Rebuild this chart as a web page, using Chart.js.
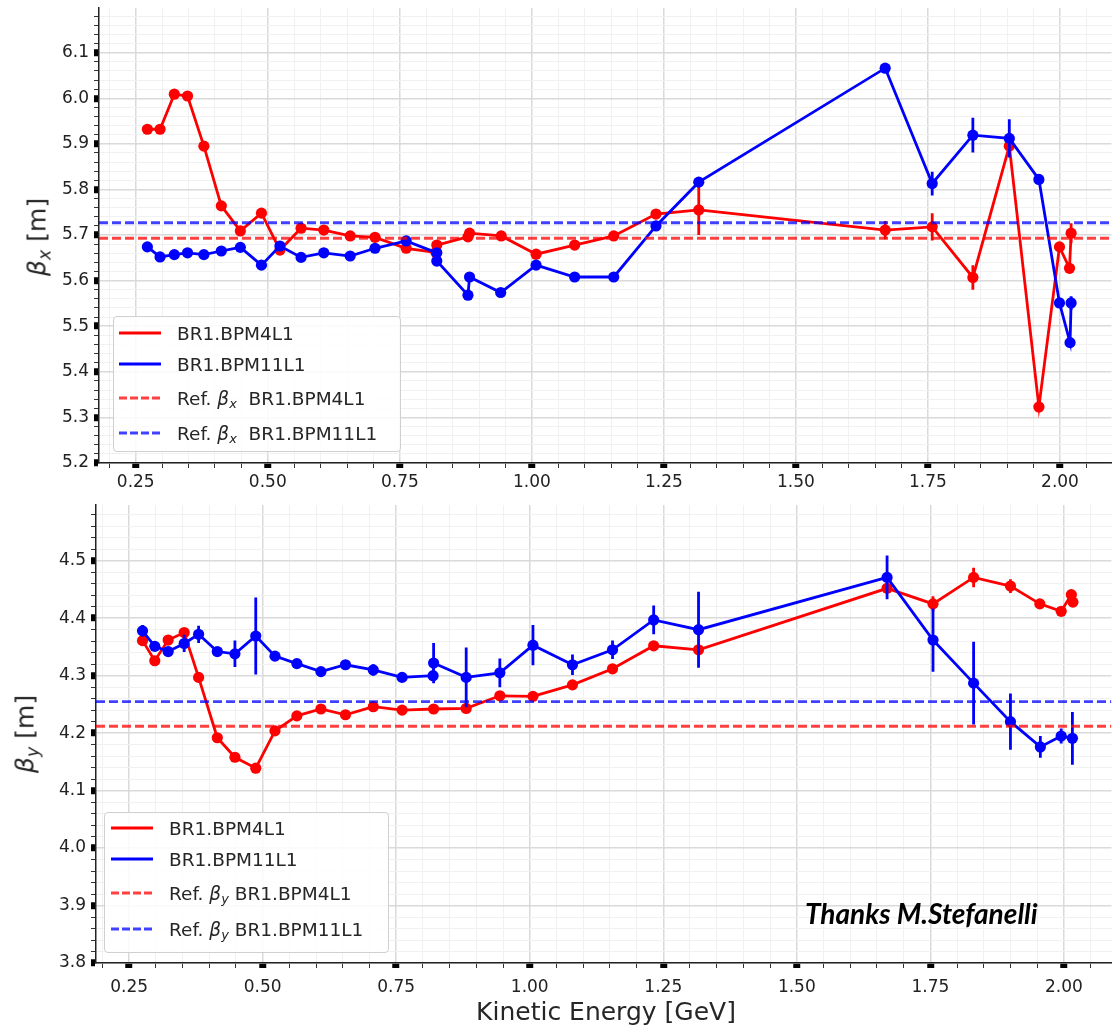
<!DOCTYPE html>
<html>
<head>
<meta charset="utf-8">
<script src="https://cdn.jsdelivr.net/npm/chart.js@4.4.1/dist/chart.umd.min.js"></script>
<style>
  body { margin: 0; background: #fff; }
  #wrap { position: relative; width: 1117px; height: 1030px; font-family: "DejaVu Sans", sans-serif; color: #262626; }
  canvas { position: absolute; left: 0; }
  #cTop { top: 0; }
  #cBot { top: 490px; }
  .ytitle { position: absolute; font-size: 25px; white-space: nowrap; transform: translate(-50%, -50%) rotate(-90deg); }
  .xtitle { position: absolute; font-size: 25px; white-space: nowrap; transform: translate(-50%, -50%); }
  sub { font-size: 0.7em; vertical-align: -0.3em; line-height: 0; }
  .legend { position: absolute; box-sizing: border-box; border: 1px solid #d0d0d0; border-radius: 4px; background: rgba(255,255,255,0.85); font-size: 18.5px; }
  .row { position: absolute; left: 0; display: flex; align-items: center; transform: translateY(-50%); white-space: nowrap; }
  .swatch { height: 3px; }
  .thanks { position: absolute; font-family: Lato, "Open Sans", sans-serif; font-weight: bold; font-style: italic; font-size: 28px; color: #000; white-space: nowrap; transform: translateY(-50%); }
</style>
</head>
<body>
<div id="wrap">
  <canvas id="cTop" width="1117" height="490"></canvas>
  <canvas id="cBot" width="1117" height="540"></canvas>
  <div class="ytitle" style="left:37px; top:237px;"><i>β</i><sub><i>x</i></sub> [m]</div>
  <div class="ytitle" style="left:25px; top:734px;"><i>β</i><sub><i>y</i></sub> [m]</div>
  <div class="xtitle" style="left:606px; top:1011px;">Kinetic Energy [GeV]</div>
  <div class="legend" id="legTop" style="left:113px; top:316px; width:288px; height:136px;"></div>
  <div class="legend" id="legBot" style="left:104px; top:812px; width:285px; height:141px;"></div>
  <div class="thanks" style="left:805px; top:913px;">Thanks M.Stefanelli</div>
</div>
<script>
// ---- beta_x (top panel) ----
const topRedE    = [0.272, 0.296, 0.323, 0.348, 0.379, 0.412, 0.448, 0.488, 0.523, 0.563, 0.606, 0.656, 0.703, 0.762, 0.818, 0.820, 0.879, 0.882, 0.942, 1.008, 1.081, 1.155, 1.235, 1.316, 1.669, 1.758, 1.835, 1.904, 1.960, 1.999, 2.018, 2.021];
const topRedBeta = [5.932, 5.932, 6.009, 6.005, 5.895, 5.764, 5.709, 5.748, 5.667, 5.715, 5.711, 5.698, 5.695, 5.671, 5.662, 5.678, 5.696, 5.704, 5.698, 5.658, 5.678, 5.698, 5.746, 5.755, 5.711, 5.718, 5.607, 5.895, 5.323, 5.674, 5.627, 5.704];
const topRedErr  = [0.004, 0.004, 0.004, 0.004, 0.004, 0.004, 0.006, 0.005, 0.005, 0.005, 0.004, 0.004, 0.004, 0.004, 0.005, 0.005, 0.006, 0.010, 0.004, 0.004, 0.004, 0.004, 0.008, 0.055, 0.020, 0.030, 0.027, 0.010, 0.005, 0.010, 0.008, 0.022];

const topBlueE    = [0.272, 0.296, 0.323, 0.348, 0.379, 0.412, 0.448, 0.488, 0.523, 0.563, 0.606, 0.656, 0.703, 0.762, 0.820, 0.820, 0.879, 0.882, 0.941, 1.008, 1.081, 1.155, 1.235, 1.316, 1.669, 1.758, 1.835, 1.904, 1.960, 1.999, 2.019, 2.021];
const topBlueBeta = [5.674, 5.652, 5.657, 5.661, 5.657, 5.665, 5.673, 5.634, 5.676, 5.651, 5.661, 5.654, 5.671, 5.687, 5.661, 5.643, 5.568, 5.608, 5.574, 5.634, 5.608, 5.608, 5.720, 5.816, 6.066, 5.813, 5.919, 5.912, 5.822, 5.551, 5.464, 5.551];
const topBlueErr  = [0.005, 0.004, 0.004, 0.004, 0.004, 0.004, 0.004, 0.004, 0.006, 0.004, 0.004, 0.004, 0.004, 0.005, 0.005, 0.005, 0.005, 0.005, 0.004, 0.004, 0.004, 0.004, 0.005, 0.005, 0.010, 0.026, 0.038, 0.042, 0.006, 0.005, 0.005, 0.015];

const topRefRed = 5.693;
const topRefBlue = 5.727;

// ---- beta_y (bottom panel) ----
const botRedE    = [0.275, 0.298, 0.323, 0.353, 0.380, 0.415, 0.448, 0.487, 0.523, 0.564, 0.609, 0.655, 0.707, 0.761, 0.820, 0.881, 0.944, 1.006, 1.080, 1.155, 1.232, 1.316, 1.669, 1.755, 1.831, 1.900, 1.955, 1.995, 2.014, 2.017];
const botRedBeta = [4.361, 4.326, 4.362, 4.375, 4.297, 4.192, 4.158, 4.139, 4.204, 4.230, 4.242, 4.232, 4.246, 4.240, 4.242, 4.243, 4.265, 4.264, 4.284, 4.312, 4.352, 4.345, 4.452, 4.425, 4.471, 4.456, 4.425, 4.412, 4.441, 4.428];
const botRedErr  = [0.005, 0.005, 0.005, 0.004, 0.004, 0.004, 0.004, 0.004, 0.004, 0.004, 0.004, 0.004, 0.004, 0.004, 0.004, 0.004, 0.004, 0.004, 0.004, 0.004, 0.004, 0.005, 0.005, 0.013, 0.017, 0.012, 0.005, 0.005, 0.005, 0.005];

const botBlueE    = [0.275, 0.298, 0.323, 0.353, 0.380, 0.415, 0.448, 0.487, 0.523, 0.564, 0.609, 0.655, 0.707, 0.761, 0.819, 0.820, 0.881, 0.944, 1.006, 1.080, 1.155, 1.232, 1.316, 1.669, 1.755, 1.831, 1.900, 1.956, 1.995, 2.016];
const botBlueBeta = [4.378, 4.351, 4.342, 4.356, 4.372, 4.342, 4.338, 4.369, 4.334, 4.321, 4.307, 4.319, 4.310, 4.297, 4.300, 4.322, 4.297, 4.305, 4.353, 4.319, 4.345, 4.397, 4.380, 4.471, 4.362, 4.287, 4.220, 4.176, 4.195, 4.191];
const botBlueErr  = [0.010, 0.005, 0.006, 0.015, 0.015, 0.006, 0.023, 0.067, 0.005, 0.005, 0.005, 0.005, 0.010, 0.005, 0.005, 0.035, 0.052, 0.025, 0.035, 0.018, 0.016, 0.025, 0.066, 0.038, 0.055, 0.072, 0.049, 0.019, 0.013, 0.046];

const botRefRed = 4.212;
const botRefBlue = 4.255;

// legend texts
const topLegend = ['BR1.BPM4L1', 'BR1.BPM11L1', 'Ref. <i>β</i><sub><i>x</i></sub>&nbsp; BR1.BPM4L1', 'Ref. <i>β</i><sub><i>x</i></sub>&nbsp; BR1.BPM11L1'];
const botLegend = ['BR1.BPM4L1', 'BR1.BPM11L1', 'Ref. <i>β</i><sub><i>y</i></sub> BR1.BPM4L1', 'Ref. <i>β</i><sub><i>y</i></sub> BR1.BPM11L1'];

const RED = '#ff0000';
const BLUE = '#0000ff';
const RED_REF = 'rgba(255, 0, 0, 0.75)';
const BLUE_REF = 'rgba(0, 0, 255, 0.75)';

Chart.defaults.font.family = '"DejaVu Sans", sans-serif';
Chart.defaults.color = '#222';

function points(xs, ys) {
    return xs.map((x, i) => ({ x, y: ys[i] }));
}

// vertical error bars as broken line segments
function errBars(xs, ys, es) {
    const out = [];
    xs.forEach((x, i) => {
        out.push({ x, y: ys[i] - es[i] }, { x, y: ys[i] + es[i] }, { x, y: null });
    });
    return out;
}

function isMajor(v, step) {
    return Math.abs(v / step - Math.round(v / step)) < 1e-6;
}

function minorTicks(scale, step) {
    const ticks = [];
    for (let k = Math.ceil(scale.min / step - 1e-9); k * step <= scale.max + 1e-9; k++) {
        ticks.push({ value: +(k * step).toFixed(4) });
    }
    scale.ticks = ticks;
}

function axisGrid(step) {
    return {
        color: (c) => isMajor(c.tick.value, step) ? '#dadada' : '#f1f1f1',
        lineWidth: (c) => isMajor(c.tick.value, step) ? 1.5 : 1,
        tickColor: (c) => isMajor(c.tick.value, step) ? '#000' : '#333',
        tickWidth: (c) => isMajor(c.tick.value, step) ? 7 : 1,
        tickLength: 5
    };
}

function makeChart(id, cfg) {
    const datasets = [
        { data: points(cfg.blueE, cfg.blueBeta), borderColor: BLUE, backgroundColor: BLUE, order: 2 },
        { data: points(cfg.redE, cfg.redBeta), borderColor: RED, backgroundColor: RED, order: 3 },
        { data: errBars(cfg.blueE, cfg.blueBeta, cfg.blueErr), borderColor: BLUE, pointRadius: 0, order: 2 },
        { data: errBars(cfg.redE, cfg.redBeta, cfg.redErr), borderColor: RED, pointRadius: 0, order: 3 },
        { data: [{ x: cfg.xMin, y: cfg.refRed }, { x: cfg.xMax, y: cfg.refRed }], borderColor: RED_REF, borderDash: [9, 4], pointRadius: 0, order: 1 },
        { data: [{ x: cfg.xMin, y: cfg.refBlue }, { x: cfg.xMax, y: cfg.refBlue }], borderColor: BLUE_REF, borderDash: [9, 4], pointRadius: 0, order: 0 }
    ];
    datasets.forEach(d => {
        d.showLine = true;
        d.borderWidth = 2.8;
        d.tension = 0;
        d.spanGaps = false;
        if (d.pointRadius === undefined) { d.pointRadius = 5.6; d.pointBorderWidth = 0; }
    });

    return new Chart(document.getElementById(id), {
        type: 'scatter',
        data: { datasets },
        options: {
            responsive: false,
            animation: false,
            devicePixelRatio: 1,
            layout: { padding: cfg.padding },
            plugins: { legend: { display: false }, tooltip: { enabled: false } },
            scales: {
                x: {
                    type: 'linear',
                    min: cfg.xMin,
                    max: cfg.xMax,
                    afterBuildTicks: (s) => minorTicks(s, 0.05),
                    afterFit: (s) => { s.height = cfg.xHeight; s.paddingLeft = 0; s.paddingRight = 0; },
                    ticks: {
                        autoSkip: false,
                        maxRotation: 0,
                        padding: cfg.xPad,
                        font: { size: 17 },
                        callback: (v) => isMajor(v, 0.25) ? v.toFixed(2) : ''
                    },
                    grid: axisGrid(0.25),
                    border: { display: true, color: '#222', width: 1.5 }
                },
                y: {
                    min: cfg.yMin,
                    max: cfg.yMax,
                    afterBuildTicks: (s) => minorTicks(s, 0.02),
                    afterFit: (s) => { s.width = cfg.yWidth; s.paddingTop = 0; s.paddingBottom = 0; },
                    ticks: {
                        autoSkip: false,
                        padding: 5,
                        font: { size: 17 },
                        callback: (v) => isMajor(v, 0.1) ? v.toFixed(1) : ''
                    },
                    grid: axisGrid(0.1),
                    border: { display: true, color: '#222', width: 1.5 }
                }
            }
        }
    });
}

function buildLegend(id, labels, rows, swLeft, txtLeft) {
    const styles = [
        { color: RED, dash: false },
        { color: BLUE, dash: false },
        { color: RED_REF, dash: true },
        { color: BLUE_REF, dash: true }
    ];
    const box = document.getElementById(id);
    labels.forEach((txt, i) => {
        const st = styles[i];
        const bg = st.dash
            ? `repeating-linear-gradient(90deg, ${st.color} 0 8px, transparent 8px 11px)`
            : st.color;
        const row = document.createElement('div');
        row.className = 'row';
        row.style.top = rows[i] + 'px';
        row.style.left = swLeft + 'px';
        row.innerHTML = `<span class="swatch" style="width:42px; background:${bg}; margin-right:${txtLeft - swLeft - 42}px"></span><span>${txt}</span>`;
        box.appendChild(row);
    });
}

makeChart('cTop', {
    redE: topRedE, redBeta: topRedBeta, redErr: topRedErr,
    blueE: topBlueE, blueBeta: topBlueBeta, blueErr: topBlueErr,
    refRed: topRefRed, refBlue: topRefBlue,
    xMin: 0.1804, xMax: 2.0973, yMin: 5.2, yMax: 6.198,
    padding: { top: 8, right: 2, left: 0, bottom: 0 },
    xHeight: 27, xPad: 4, yWidth: 99
});

makeChart('cBot', {
    redE: botRedE, redBeta: botRedBeta, redErr: botRedErr,
    blueE: botBlueE, blueBeta: botBlueBeta, blueErr: botBlueErr,
    refRed: botRefRed, refBlue: botRefBlue,
    xMin: 0.1879, xMax: 2.089, yMin: 3.8, yMax: 4.597,
    padding: { top: 15, right: 2, left: 0, bottom: 0 },
    xHeight: 67, xPad: 9, yWidth: 96
});

buildLegend('legTop', topLegend, [15.7, 47.3, 80.7, 115.7], 5, 63);
buildLegend('legBot', botLegend, [14.7, 46.3, 79.7, 116.3], 6, 64);
</script>
</body>
</html>
